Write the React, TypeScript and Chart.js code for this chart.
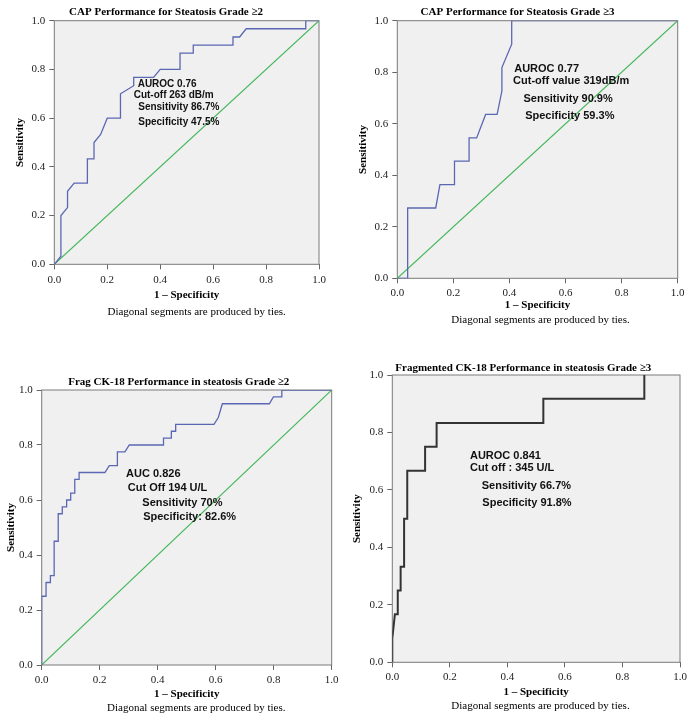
import React, { useEffect, useRef } from "react";
import { Chart, registerables } from "chart.js";

Chart.register(...registerables);

// ---------------- data ----------------
const tickValues = [0, 0.2, 0.4, 0.6, 0.8, 1.0];
const tickLabels = ["0.0", "0.2", "0.4", "0.6", "0.8", "1.0"];
const xAxisTitle = "1 – Specificity";
const yAxisTitle = "Sensitivity";
const footnoteText = "Diagonal segments are produced by ties.";

const diagonalX = [0, 1];
const diagonalY = [0, 1];

// Panel 1: CAP, steatosis grade >= 2
const capG2Title = "CAP Performance for Steatosis Grade ≥2";
const capG2X = [0, 0.025, 0.025, 0.05, 0.05, 0.075, 0.125, 0.125, 0.15, 0.15, 0.175, 0.2, 0.25, 0.25, 0.3, 0.3, 0.375, 0.4, 0.475, 0.475, 0.525, 0.525, 0.675, 0.675, 0.7, 0.725, 0.95, 0.95, 1.0];
const capG2Y = [0, 0.033, 0.2, 0.233, 0.3, 0.333, 0.333, 0.433, 0.433, 0.5, 0.533, 0.6, 0.6, 0.7, 0.733, 0.767, 0.767, 0.8, 0.8, 0.867, 0.867, 0.9, 0.9, 0.933, 0.933, 0.967, 0.967, 1.0, 1.0];
const capG2Notes = ["AUROC 0.76", "Cut-off 263 dB/m", "Sensitivity 86.7%", "Specificity 47.5%"];

// Panel 2: CAP, steatosis grade >= 3
const capG3Title = "CAP Performance for Steatosis Grade ≥3";
const capG3X = [0, 0.037, 0.037, 0.137, 0.152, 0.204, 0.204, 0.256, 0.256, 0.283, 0.315, 0.356, 0.373, 0.373, 0.408, 0.408, 1.0];
const capG3Y = [0, 0, 0.273, 0.273, 0.364, 0.364, 0.455, 0.455, 0.545, 0.545, 0.636, 0.636, 0.727, 0.818, 0.909, 1.0, 1.0];
const capG3Notes = ["AUROC 0.77", "Cut-off value 319dB/m", "Sensitivity 90.9%", "Specificity 59.3%"];

// Panel 3: Frag CK-18, steatosis grade >= 2
const ck18G2Title = "Frag CK-18 Performance in steatosis Grade ≥2";
const ck18G2X = [0, 0, 0.015, 0.015, 0.03, 0.03, 0.043, 0.043, 0.057, 0.057, 0.071, 0.071, 0.086, 0.086, 0.1, 0.1, 0.114, 0.114, 0.129, 0.129, 0.218, 0.233, 0.261, 0.261, 0.287, 0.302, 0.42, 0.42, 0.447, 0.447, 0.462, 0.462, 0.594, 0.609, 0.623, 0.785, 0.799, 0.828, 0.828, 1.0];
const ck18G2Y = [0, 0.25, 0.25, 0.3, 0.3, 0.325, 0.325, 0.45, 0.45, 0.55, 0.55, 0.575, 0.575, 0.6, 0.6, 0.625, 0.625, 0.675, 0.675, 0.7, 0.7, 0.725, 0.725, 0.775, 0.775, 0.8, 0.8, 0.825, 0.825, 0.85, 0.85, 0.875, 0.875, 0.9, 0.95, 0.95, 0.975, 0.975, 1.0, 1.0];
const ck18G2Notes = ["AUC 0.826", "Cut Off 194 U/L", "Sensitivity 70%", "Specificity: 82.6%"];

// Panel 4: Fragmented CK-18, steatosis grade >= 3
const ck18G3Title = "Fragmented CK-18 Performance in steatosis Grade ≥3";
const ck18G3X = [0, 0, 0.009, 0.019, 0.019, 0.029, 0.029, 0.041, 0.041, 0.052, 0.052, 0.114, 0.114, 0.154, 0.154, 0.525, 0.525, 0.876, 0.876];
const ck18G3Y = [0, 0.083, 0.167, 0.167, 0.25, 0.25, 0.333, 0.333, 0.5, 0.5, 0.667, 0.667, 0.75, 0.75, 0.833, 0.833, 0.917, 0.917, 1.0];
const ck18G3Notes = ["AUROC 0.841", "Cut off : 345 U/L", "Sensitivity 66.7%", "Specificity 91.8%"];

// ---------------- layout / style ----------------
const SERIF = "'Liberation Serif', 'DejaVu Serif', serif";
const SANS = "'Liberation Sans', Arial, sans-serif";

type PanelLayout = {
  canvas: { left: number; top: number; w: number; h: number };
  padRight: number; padBottom: number;
  titleCx: number;
  titlePad: { top: number; bottom: number };
  yWidth: number; yTitlePad: number;
  xHeight: number; xTickPad: number;
  footDx: number; footDy: number;
  noteFont: number;
  noteAt: number[][];
};

type Panel = {
  title: string;
  xs: number[]; ys: number[];
  notes: string[];
  color: string; width: number;
  diagonal: boolean;
  layout: PanelLayout;
};

const panels: Panel[] = [
  {
    title: capG2Title, xs: capG2X, ys: capG2Y, notes: capG2Notes,
    color: "#5b67b3", width: 1.3, diagonal: true,
    layout: {
      canvas: { left: 0, top: 0, w: 335, h: 325 },
      padRight: 16, padBottom: 23.4,
      titleCx: 166,
      titlePad: { top: 5.4, bottom: 2.1 },
      yWidth: 54.3, yTitlePad: 13.4,
      xHeight: 37.3, xTickPad: 4.1,
      footDx: 10, footDy: 47.7,
      noteFont: 10,
      noteAt: [[0.315, 0.739], [0.3, 0.692], [0.317, 0.644], [0.317, 0.585]],
    },
  },
  {
    title: capG3Title, xs: capG3X, ys: capG3Y, notes: capG3Notes,
    color: "#5b67b3", width: 1.3, diagonal: true,
    layout: {
      canvas: { left: 345, top: 0, w: 348, h: 330 },
      padRight: 15.3, padBottom: 18.4,
      titleCx: 172.5,
      titlePad: { top: 5.7, bottom: 1.8 },
      yWidth: 52.3, yTitlePad: 11.7,
      xHeight: 33.3, xTickPad: 2.8,
      footDx: 3, footDy: 41.7,
      noteFont: 11,
      noteAt: [[0.417, 0.813], [0.413, 0.766], [0.45, 0.696], [0.456, 0.63]],
    },
  },
  {
    title: ck18G2Title, xs: ck18G2X, ys: ck18G2Y, notes: ck18G2Notes,
    color: "#5b67b3", width: 1.3, diagonal: true,
    layout: {
      canvas: { left: 0, top: 330, w: 345, h: 390 },
      padRight: 13.3, padBottom: 19.4,
      titleCx: 178.8,
      titlePad: { top: 45.1, bottom: 1.7 },
      yWidth: 41.7, yTitlePad: 4.1,
      xHeight: 35.6, xTickPad: 3.4,
      footDx: 9.6, footDy: 42.7,
      noteFont: 11,
      noteAt: [[0.291, 0.693], [0.297, 0.645], [0.347, 0.59], [0.35, 0.539]],
    },
  },
  {
    title: ck18G3Title, xs: ck18G3X, ys: ck18G3Y, notes: ck18G3Notes,
    color: "#333333", width: 2, diagonal: false,
    layout: {
      canvas: { left: 345, top: 330, w: 348, h: 390 },
      padRight: 13, padBottom: 21.7,
      titleCx: 178.3,
      titlePad: { top: 31.1, bottom: 0.7 },
      yWidth: 47.3, yTitlePad: 5.1,
      xHeight: 36, xTickPad: 2.8,
      footDx: 4.3, footDy: 43.4,
      noteFont: 11,
      noteAt: [[0.27, 0.718], [0.27, 0.675], [0.311, 0.614], [0.313, 0.553]],
    },
  },
];

function toPoints(xs: number[], ys: number[]) {
  return xs.map((x, i) => ({ x, y: ys[i] }));
}

const plotFrame = {
  id: "plotFrame",
  beforeDatasetsDraw(chart: any) {
    const { ctx, chartArea: a } = chart;
    ctx.save();
    ctx.fillStyle = "#f0f0f0";
    ctx.fillRect(a.left, a.top, a.right - a.left, a.bottom - a.top);
    ctx.strokeStyle = "#7a7a7a";
    ctx.lineWidth = 1;
    ctx.strokeRect(a.left, a.top, a.right - a.left, a.bottom - a.top);
    ctx.restore();
  },
};

function titleShift(cx: number) {
  return {
    id: "titleShift",
    afterLayout(chart: any) {
      const t = chart.titleBlock;
      if (!t) return;
      const w = t.right - t.left;
      t.left = cx - w / 2;
      t.right = cx + w / 2;
    },
  };
}

function textPlugin(p: Panel) {
  return {
    id: "rocText",
    afterDatasetsDraw(chart: any) {
      const { ctx, chartArea: a, scales } = chart;
      const L = p.layout;
      ctx.save();
      ctx.fillStyle = "#111";
      ctx.textBaseline = "middle";
      ctx.textAlign = "left";
      ctx.font = `bold ${L.noteFont}px ${SANS}`;
      p.notes.forEach((t, i) => {
        const [dx, dy] = L.noteAt[i];
        ctx.fillText(t, scales.x.getPixelForValue(dx), scales.y.getPixelForValue(dy));
      });
      ctx.font = `11px ${SERIF}`;
      ctx.textAlign = "center";
      ctx.fillStyle = "#000";
      ctx.fillText(footnoteText, (a.left + a.right) / 2 + L.footDx, a.bottom + L.footDy);
      ctx.restore();
    },
  };
}

function RocPanel({ panel }: { panel: Panel }) {
  const ref = useRef<HTMLCanvasElement>(null);
  const L = panel.layout;
  useEffect(() => {
    const tickFont = { family: SERIF, size: 11 };
    const axisTitleFont = { family: SERIF, size: 11, weight: "bold" as const };
    const datasets: any[] = [
      {
        data: toPoints(panel.xs, panel.ys),
        showLine: true,
        borderColor: panel.color,
        borderWidth: panel.width,
        pointRadius: 0,
        pointHoverRadius: 0,
        fill: false,
        tension: 0,
      },
    ];
    if (panel.diagonal) {
      datasets.push({
        data: toPoints(diagonalX, diagonalY),
        showLine: true,
        borderColor: "#45b75a",
        borderWidth: 1.1,
        pointRadius: 0,
        pointHoverRadius: 0,
        fill: false,
      });
    }
    const chart = new Chart(ref.current!, {
      type: "scatter",
      data: { datasets },
      options: {
        animation: false,
        responsive: false,
        devicePixelRatio: 1,
        events: [],
        layout: { padding: { left: 0, right: L.padRight, top: 0, bottom: L.padBottom } },
        plugins: {
          legend: { display: false },
          tooltip: { enabled: false },
          title: {
            display: true,
            text: panel.title,
            color: "#000",
            font: { family: SERIF, size: 11, weight: "bold" },
            padding: L.titlePad,
          },
        },
        scales: {
          x: {
            type: "linear",
            min: 0,
            max: 1,
            afterBuildTicks: (s: any) => { s.ticks = tickValues.map((v) => ({ value: v })); },
            afterFit: (s: any) => { s.height = L.xHeight; },
            ticks: {
              callback: (_v: any, i: number) => tickLabels[i],
              padding: L.xTickPad,
              color: "#222",
              font: tickFont,
              maxRotation: 0,
              autoSkip: false,
            },
            grid: { display: true, drawOnChartArea: false, drawTicks: true, tickLength: 5, color: "#666" },
            border: { display: false },
            title: { display: true, text: xAxisTitle, color: "#000", font: axisTitleFont, padding: { top: 0, bottom: 0 } },
          },
          y: {
            type: "linear",
            min: 0,
            max: 1,
            afterBuildTicks: (s: any) => { s.ticks = tickValues.map((v) => ({ value: v })); },
            afterFit: (s: any) => { s.width = L.yWidth; },
            ticks: {
              callback: (_v: any, i: number) => tickLabels[i],
              padding: 4,
              color: "#222",
              font: tickFont,
              autoSkip: false,
            },
            grid: { display: true, drawOnChartArea: false, drawTicks: true, tickLength: 5, color: "#666" },
            border: { display: false },
            title: { display: true, text: yAxisTitle, color: "#000", font: axisTitleFont, padding: { top: L.yTitlePad, bottom: 0 } },
          },
        },
      } as any,
      plugins: [plotFrame, titleShift(L.titleCx), textPlugin(panel)],
    });
    return () => chart.destroy();
  }, []);
  return (
    <canvas
      ref={ref}
      width={L.canvas.w}
      height={L.canvas.h}
      style={{ position: "absolute", left: L.canvas.left, top: L.canvas.top, width: L.canvas.w, height: L.canvas.h }}
    />
  );
}

export default function App() {
  return (
    <div style={{ position: "absolute", left: 0, top: 0, width: 693, height: 720, background: "#fff" }}>
      {panels.map((p, i) => (
        <RocPanel key={i} panel={p} />
      ))}
    </div>
  );
}
